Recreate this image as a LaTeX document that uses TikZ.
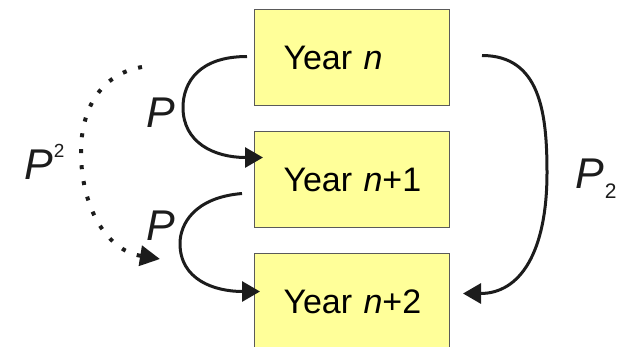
\documentclass[tikz,border=0pt]{standalone}
\usepackage{fontspec}
\setmainfont{Liberation Sans}
\usetikzlibrary{arrows.meta,calc}
\definecolor{boxfill}{HTML}{FFFF99}
\definecolor{boxline}{HTML}{5A5A5A}
\definecolor{ink}{HTML}{1C1C1C}
\tikzset{
  yearbox/.style={draw=boxline, line width=1pt, fill=boxfill,
    minimum width=195pt, minimum height=96pt, inner xsep=29pt,
    text width=137pt, align=left, anchor=north west,
    font=\fontsize{34}{34}\selectfont},
  curvearrow/.style={draw=ink, line width=3pt,
    -{Triangle[length=18pt,width=20pt]}},
  dotarrow/.style={draw=ink, line width=4pt, dash pattern=on 4pt off 12pt,
    -{Triangle[length=20pt,width=20pt]}},
  biglabel/.style={anchor=base west, inner sep=0pt, text=ink,
    font=\fontsize{43}{43}\selectfont}
}
\begin{document}
\begin{tikzpicture}[x=1pt,y=-1pt]
  \useasboundingbox (0,0) rectangle (626,346);
  \clip (0,0) rectangle (626,346);

  % the three year boxes
  \node[yearbox] (y0) at (254,9)   {\mbox{Year \textit{n}}};
  \node[yearbox] (y1) at (254,131) {\mbox{Year \textit{n}+1}};
  \node[yearbox] (y2) at (254,253) {\mbox{Year \textit{n}+2}};

  % one-step transitions
  \draw[curvearrow] ($(y0.west)+(-7,-1)$)
    .. controls ($(y0.west)+(-55,-1)$) and ($(y0.west)+(-71,25)$) .. ($(y0.west)+(-71,50)$)
    .. controls ($(y0.west)+(-71,85)$) and ($(y1.west)+(-40,-22)$) .. ($(y1.west)+(9,-22)$);
  \draw[curvearrow] ($(y1.west)+(-12,14)$)
    .. controls ($(y1.west)+(-60,18)$) and ($(y1.west)+(-74,45)$) .. ($(y1.west)+(-74,64)$)
    .. controls ($(y1.west)+(-74,100)$) and ($(y2.west)+(-40,-10)$) .. ($(y2.west)+(6,-10)$);

  % two-step transition on the right
  \draw[curvearrow] ($(y0.east)+(32,-2)$)
    .. controls ($(y0.east)+(90,-2)$) and ($(y0.east)+(97,55)$) .. ($(y0.east)+(97,115)$)
    .. controls ($(y0.east)+(97,195)$) and ($(y2.east)+(70,-8)$) .. ($(y2.east)+(13,-8)$);

  % dotted two-step transition on the left
  \coordinate (d0) at (142,67);
  \coordinate (d1) at (160,259);
  \draw[dotarrow] (d0)
    .. controls (100,74) and (81,110) .. (81,152)
    .. controls (81,205) and (105,250) .. (d1);

  % labels
  \node[biglabel] (pa) at (146,127) {\textit{P}};
  \node[biglabel] (pb) at (146,240) {\textit{P}};
  \node[biglabel] (psq) at (24,179)
    {\textit{P}\kern1pt\raisebox{22pt}{\fontsize{19}{19}\selectfont 2}};
  \node[biglabel] (psub) at (575,188)
    {\textit{P}\kern1pt\raisebox{-10pt}{\fontsize{21}{21}\selectfont 2}};
\end{tikzpicture}
\end{document}
